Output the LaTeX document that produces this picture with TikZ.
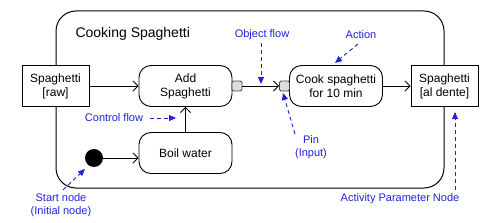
\documentclass[tikz,border=0pt]{standalone}
\usepackage{fontspec}
\setmainfont{Liberation Sans}
\usetikzlibrary{arrows.meta}
\definecolor{annot}{HTML}{2222DD}
\definecolor{pinfill}{HTML}{DDDDDD}
\definecolor{pinline}{HTML}{444444}

\begin{document}
\begin{tikzpicture}[x=1pt,y=-1pt,
    action/.style={draw,fill=white,line width=0.9pt,rounded corners=12pt,minimum width=93pt,
      minimum height=41pt,align=center,inner sep=1pt,font=\fontsize{12}{14}\selectfont},
    param/.style={draw,fill=white,line width=0.9pt,minimum width=67pt,minimum height=41pt,
      align=center,inner sep=1pt,font=\fontsize{12}{14}\selectfont},
    pin/.style={draw=pinline,fill=pinfill,line width=0.9pt,minimum size=10pt,inner sep=0pt,
      rounded corners=1.5pt},
    flow/.style={-{Straight Barb[length=5pt,width=10pt]},line width=0.9pt},
    note/.style={text=annot,align=center,font=\fontsize{11}{13}\selectfont},
    pointer/.style={annot,dash pattern=on 4pt off 3pt,line width=0.9pt,
      -{Triangle[length=7pt,width=6pt]}}]
    \useasboundingbox (0,0) rectangle (500,222);
    % activity frame
    \draw[line width=1pt,rounded corners=20pt] (56,11) rectangle (444,188);
    \node[anchor=west,font=\fontsize{14}{16}\selectfont] (title) at (72,34) {Cooking Spaghetti};
    % nodes
    \node[param] (raw) at (55.5,86) {Spaghetti\\{[raw]}};
    \node[action] (add) at (185.5,86) {Add\\Spaghetti};
    \node[action] (cook) at (336,86) {Cook spaghetti\\for 10 min};
    \node[param] (done) at (444.5,86) {Spaghetti\\{[al dente]}};
    \node[action] (boil) at (185.5,153) {Boil water};
    \node[circle,fill=black,minimum size=18pt,inner sep=0pt] (start) at (94,158) {};
    \node[pin] (pinout) at (237,86) {};
    \node[pin] (pinin) at (284.5,86) {};
    % flows
    \draw[flow] (raw) -- (add);
    \draw[flow] (pinout) -- (pinin);
    \draw[flow] (cook) -- (done);
    \draw[flow] (start) -- (start -| boil.west);
    \draw[flow] (boil) -- (add);
    % annotations
    \node[note] (objnote) at (262,35) {Object flow};
    \node[note] (actnote) at (361,35) {Action};
    \node[note] (ctrlnote) at (114,118) {Control flow};
    \node[note] (pinnote) at (311,147) {Pin\\(Input)};
    \node[note] (startnote) at (61,205) {Start node\\(Initial node)};
    \node[note] (paramnote) at (400,199) {Activity Parameter Node};
    \coordinate (objtip) at (261,84);
    \coordinate (acttip) at (335,63);
    \coordinate (ctrltip) at (176,118);
    \coordinate (pintip) at (283,93);
    \coordinate (starttip) at (85,169);
    \coordinate (paramtip) at (455,112);
    \draw[pointer] (261,43) -- (objtip);
    \draw[pointer] (358,44) -- (acttip);
    \draw[pointer] (ctrlnote.east) ++(3,0) -- (ctrltip);
    \draw[pointer] (295,134) -- (pintip);
    \draw[pointer] (63,190) -- (starttip);
    \draw[pointer] (455,190) -- (paramtip);
\end{tikzpicture}
\end{document}
